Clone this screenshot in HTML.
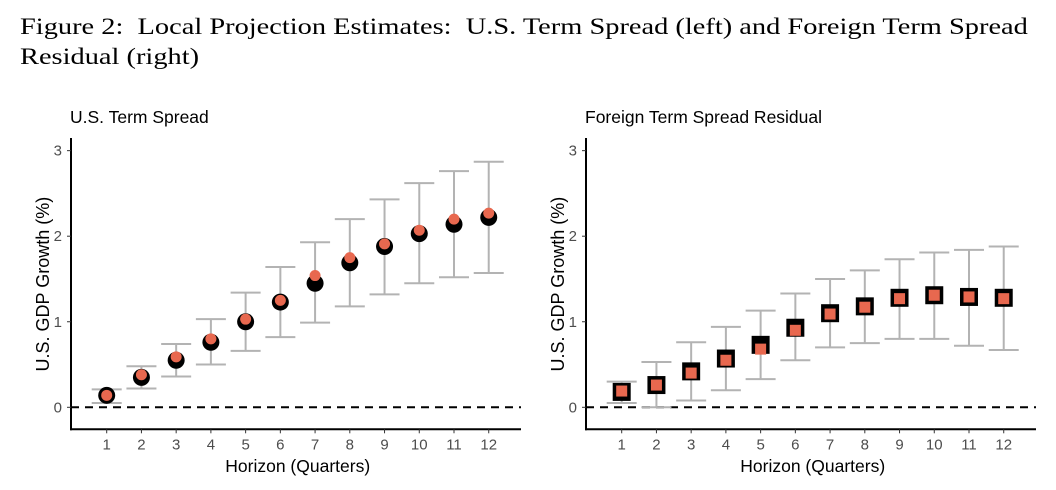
<!DOCTYPE html>
<html><head><meta charset="utf-8"><style>
body{margin:0;background:#fff;width:1056px;height:490px;overflow:hidden}
.cap{position:absolute;left:20px;top:12px;font-family:"Liberation Serif",serif;font-size:23px;line-height:30px;color:#000;white-space:nowrap;transform:scaleX(1.235);transform-origin:0 0}
</style></head><body>
<div class="cap">Figure 2: &nbsp;Local Projection Estimates: &nbsp;U.S. Term Spread (left) and Foreign Term Spread<br>Residual (right)</div>
<svg id="chart" width="1056" height="490" style="position:absolute;left:0;top:0"></svg>
<script>
const horizons=[1,2,3,4,5,6,7,8,9,10,11,12];
const yTicks=[0,1,2,3];
const usBlack=[0.14,0.35,0.55,0.76,1.0,1.23,1.45,1.69,1.88,2.03,2.14,2.22];
const usOrange=[0.14,0.38,0.59,0.8,1.03,1.25,1.54,1.75,1.91,2.07,2.2,2.27];
const usLow=[0.05,0.22,0.36,0.5,0.66,0.82,0.99,1.18,1.32,1.45,1.52,1.57];
const usHigh=[0.21,0.48,0.74,1.03,1.34,1.64,1.93,2.2,2.43,2.62,2.76,2.87];
const frBlack=[0.18,0.26,0.42,0.57,0.73,0.93,1.1,1.18,1.28,1.31,1.29,1.28];
const frOrange=[0.19,0.26,0.4,0.55,0.68,0.9,1.09,1.17,1.27,1.31,1.29,1.27];
const frLow=[0.05,0.0,0.08,0.2,0.33,0.55,0.7,0.75,0.8,0.8,0.72,0.67];
const frHigh=[0.3,0.53,0.76,0.94,1.13,1.33,1.5,1.6,1.73,1.81,1.84,1.88];

const svg=document.getElementById('chart');
const NS='http://www.w3.org/2000/svg';
function mk(tag,attrs,parent,text){const e=document.createElementNS(NS,tag);for(const k in attrs)e.setAttribute(k,attrs[k]);if(text!==undefined)e.textContent=text;parent.appendChild(e);return e;}

function panel(ox,title,name,black,orange,low,high,square){
  const g=mk('g',{},svg);
  
  
  const x0=ox+35.7, dx=34.73;
  const xs=h=>x0+(h-1)*dx;
  const ys=v=>407.3-v*85.55;
  const axL=ox, axB=429.3, axR=ox+450, axT=138;
  const t=mk('text',{x:ox-1,y:123,'font-family':'Liberation Sans, sans-serif','font-size':17.5,fill:'#000'},g,title);
  
  
  const z=mk('line',{x1:axL,x2:axR,y1:ys(0),y2:ys(0),stroke:'#000','stroke-width':2,'stroke-dasharray':'8,6'},g);
  
  
  const ya=mk('line',{x1:axL,x2:axL,y1:axT,y2:axB+1,stroke:'#000','stroke-width':2},g);
  
  
  const xa=mk('line',{x1:axL-1,x2:axR,y1:axB,y2:axB,stroke:'#000','stroke-width':2},g);
  
  
  yTicks.forEach(v=>{
    mk('line',{x1:axL-4,x2:axL,y1:ys(v),y2:ys(v),stroke:'#333','stroke-width':1},g);
    const l=mk('text',{x:axL-9,y:ys(v)+5,'text-anchor':'end','font-family':'Liberation Sans, sans-serif','font-size':15,fill:'#4d4d4d'},g,v);
    
    
  });
  horizons.forEach(h=>{
    mk('line',{x1:xs(h),x2:xs(h),y1:axB,y2:axB+4,stroke:'#333','stroke-width':1},g);
    const l=mk('text',{x:xs(h),y:axB+20,'text-anchor':'middle','font-family':'Liberation Sans, sans-serif','font-size':15,fill:'#4d4d4d'},g,h);
    
    
  });
  const xt=mk('text',{x:xs(6.5),y:472,'text-anchor':'middle','font-family':'Liberation Sans, sans-serif','font-size':17.5,fill:'#000'},g,'Horizon (Quarters)');
  
  
  const yt=mk('text',{x:0,y:0,transform:`translate(${ox-22},${ys(1.44)}) rotate(-90)`,'text-anchor':'middle','font-family':'Liberation Sans, sans-serif','font-size':18,fill:'#000'},g,'U.S. GDP Growth (%)');
  
  
  horizons.forEach((h,i)=>{
    const x=xs(h);
    const eb=mk('path',{d:`M${x-15},${ys(low[i])}H${x+15}M${x-15},${ys(high[i])}H${x+15}M${x},${ys(low[i])}V${ys(high[i])}`,stroke:'#b3b3b3','stroke-width':2,fill:'none'},g);
    
    
    let b,o;
    if(square){
      b=mk('rect',{x:x-9,y:ys(black[i])-9,width:18,height:18,fill:'#000'},g);
      o=mk('rect',{x:x-5.5,y:ys(orange[i])-5.5,width:11,height:11,fill:'#e8684f'},g);
    }else{
      b=mk('circle',{cx:x,cy:ys(black[i]),r:8.5,fill:'#000'},g);
      o=mk('circle',{cx:x,cy:ys(orange[i]),r:5.5,fill:'#e8684f'},g);
    }
    
    
    
    
  });
}
panel(71,'U.S. Term Spread','panel-us-term-spread',usBlack,usOrange,usLow,usHigh,false);
panel(586,'Foreign Term Spread Residual','panel-foreign-term-spread',frBlack,frOrange,frLow,frHigh,true);
</script>
</body></html>
